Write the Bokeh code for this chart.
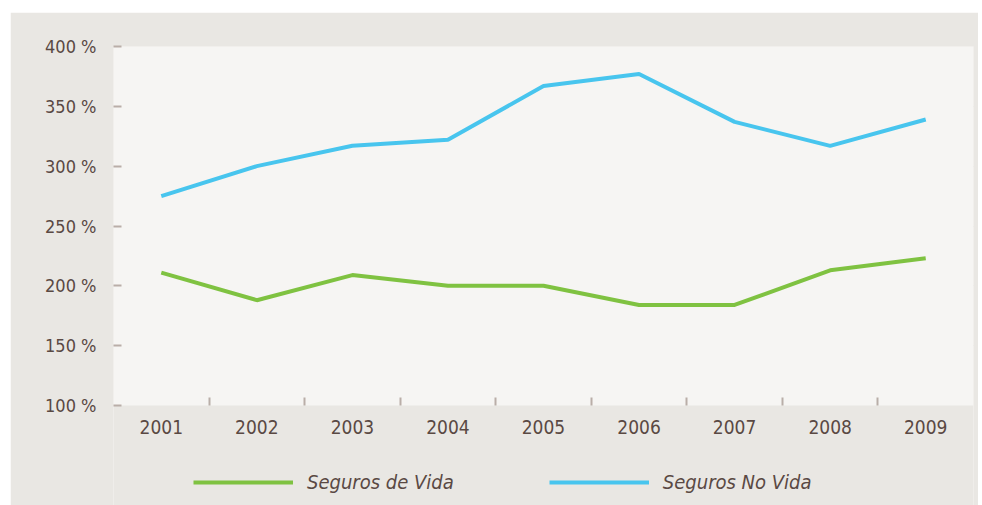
from bokeh.plotting import figure
from bokeh.models import FixedTicker, Range1d, Legend, LegendItem, BoxAnnotation, LinearAxis
from bokeh.embed import file_html
from bokeh.resources import INLINE

years = [2001, 2002, 2003, 2004, 2005, 2006, 2007, 2008, 2009]
seguros_vida = [211, 188, 209, 200, 200, 184, 184, 213, 223]
seguros_no_vida = [275, 300, 317, 322, 367, 377, 337, 317, 339]
y_ticks = [100, 150, 200, 250, 300, 350, 400]
y_tick_labels = ["100 %", "150 %", "200 %", "250 %", "300 %", "350 %", "400 %"]
series_names = ["Seguros de Vida", "Seguros No Vida"]

FONT = "DejaVu Sans Condensed"
TXT = "#5a4943"
GREEN = "#7fc241"
BLUE = "#48c5ee"
OUTER = "#e9e7e3"
INNER = "#f6f5f3"

PLOT_H = 359      # pixel height of the 100..400 band
EXTRA_H = 100     # room below the band for the axis labels and legend
units_per_px = (y_ticks[-1] - y_ticks[0]) / PLOT_H
y_start = y_ticks[0] - EXTRA_H * units_per_px

p = figure(frame_width=860, frame_height=PLOT_H + EXTRA_H, output_backend="svg",
           toolbar_location=None, x_axis_location=None,
           x_range=Range1d(years[0] - 0.5, years[-1] + 0.5),
           y_range=Range1d(y_start, y_ticks[-1]),
           min_border_left=103, min_border_right=5, min_border_top=34, min_border_bottom=0)
p.margin = (12, 0, 0, 10)
p.background_fill_color = OUTER
p.border_fill_color = OUTER
p.outline_line_color = None

p.add_layout(BoxAnnotation(bottom=y_ticks[0], top=y_ticks[-1], fill_color=INNER,
                           fill_alpha=1, line_color=None, level="underlay"))

r1 = p.line(years, seguros_vida, line_color=GREEN, line_width=4)
r2 = p.line(years, seguros_no_vida, line_color=BLUE, line_width=4)

# x axis, placed at the bottom of the 100..400 band
xaxis = LinearAxis(fixed_location=y_ticks[0])
xaxis.ticker = FixedTicker(ticks=years, minor_ticks=[y + 0.5 for y in years[:-1]])
xaxis.major_tick_in = 0
xaxis.major_tick_out = 0
xaxis.minor_tick_in = 8
xaxis.minor_tick_out = 0
xaxis.minor_tick_line_color = "#b9aea8"
xaxis.minor_tick_line_width = 2
xaxis.axis_line_color = None
xaxis.major_label_text_font = FONT
xaxis.major_label_text_font_size = "19px"
xaxis.major_label_text_color = TXT
xaxis.major_label_standoff = 14
xaxis.major_label_overrides = {y: str(y) for y in years}
p.add_layout(xaxis, "below")

# y axis
p.yaxis.ticker = FixedTicker(ticks=y_ticks)
p.yaxis.major_label_overrides = dict(zip(y_ticks, y_tick_labels))
p.yaxis.major_tick_in = 8
p.yaxis.major_tick_out = 0
p.yaxis.major_tick_line_color = "#b9aea8"
p.yaxis.major_tick_line_width = 2
p.yaxis.minor_tick_line_color = None
p.yaxis.axis_line_color = None
p.yaxis.major_label_text_font = FONT
p.yaxis.major_label_text_font_size = "18px"
p.yaxis.major_label_text_color = TXT
p.yaxis.major_label_standoff = 17

p.xgrid.grid_line_color = None
p.ygrid.ticker = FixedTicker(ticks=y_ticks[1:-1])
p.ygrid.grid_line_color = "#dedad6"
p.ygrid.grid_line_width = 1

legend = Legend(items=[LegendItem(label=series_names[0], renderers=[r1]),
                       LegendItem(label=series_names[1], renderers=[r2])],
                orientation="horizontal", location=(80, 11))
legend.background_fill_alpha = 0
legend.border_line_color = None
legend.glyph_width = 100
legend.glyph_height = 24
legend.label_standoff = 14
legend.spacing = 95
legend.padding = 0
legend.margin = 0
legend.label_text_font = FONT
legend.label_text_font_style = "italic"
legend.label_text_font_size = "20px"
legend.label_text_color = TXT
p.add_layout(legend, "center")

open("out.html", "w").write(file_html(p, INLINE))
